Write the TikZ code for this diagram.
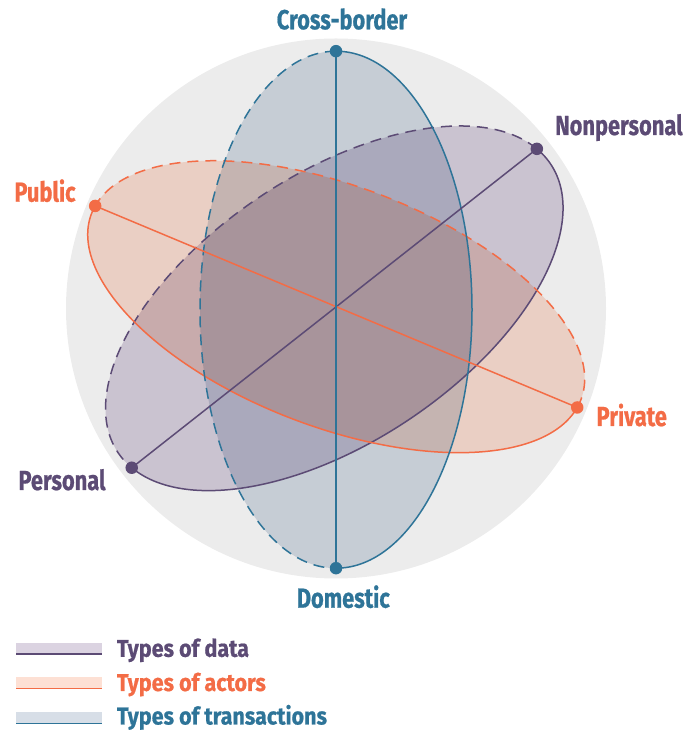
\documentclass[tikz,border=0pt]{standalone}
\usepackage{fontspec}
\setmainfont[FakeStretch=0.79, BoldFeatures={FakeBold=0.7}]{Fira Sans}
\newfontfamily\legfont[FakeStretch=0.89, BoldFeatures={FakeBold=0.7}]{Fira Sans}
\definecolor{dataC}{HTML}{5C4B75}
\definecolor{actorsC}{HTML}{F36C46}
\definecolor{transC}{HTML}{2E7498}
\definecolor{dataF}{HTML}{DBD3E1}
\definecolor{actorsF}{HTML}{FDE0D4}
\definecolor{transF}{HTML}{D7DEE7}
\definecolor{grayC}{HTML}{ECECEC}
\begin{document}
\begin{tikzpicture}[x=1pt,y=1pt,
  outl/.style={line width=1.5pt},
  dsh/.style={dash pattern=on 11pt off 7pt},
  dotn/.style={circle, inner sep=0pt, minimum size=12.5pt},
  lab/.style={font=\bfseries\fontsize{27.6}{30}\selectfont, inner sep=0pt},
  leg/.style={font=\legfont\bfseries\fontsize{24.2}{27}\selectfont, inner sep=0pt, anchor=base west},
  mult/.style={blend mode=multiply}
]
\useasboundingbox (0,0) rectangle (686,731);
\fill[grayC] (336,422.5) circle[radius=270];

% fills and coordinates
\begin{scope}[shift={(334.3,422.7)}, rotate=33.7]
  \coordinate (np) at (8.7:260 and 134);
  \coordinate (pe) at (188.7:260 and 134);
  \fill[dataF, mult] (0,0) ellipse[x radius=260, y radius=134];
\end{scope}
\begin{scope}[shift={(336.2,424.3)}, rotate=-20.8]
  \coordinate (pr) at (-4.1:261.8 and 120.4);
  \coordinate (pu) at (175.9:261.8 and 120.4);
  \fill[actorsF, mult] (0,0) ellipse[x radius=261.8, y radius=120.4];
\end{scope}
\begin{scope}[shift={(336,421.3)}, rotate=90]
  \coordinate (cb) at (0:258.5 and 136);
  \coordinate (dm) at (180:258.5 and 136);
  \fill[transF, mult] (0,0) ellipse[x radius=258.5, y radius=136];
\end{scope}

% outlines
\begin{scope}[shift={(334.3,422.7)}, rotate=33.7]
  \draw[dataC, outl, dsh] (8.7:260 and 134) arc[start angle=8.7, end angle=188.7, x radius=260, y radius=134];
  \draw[dataC, outl] (188.7:260 and 134) arc[start angle=188.7, end angle=368.7, x radius=260, y radius=134];
\end{scope}
\begin{scope}[shift={(336.2,424.3)}, rotate=-20.8]
  \draw[actorsC, outl, dsh] (-4.1:261.8 and 120.4) arc[start angle=-4.1, end angle=175.9, x radius=261.8, y radius=120.4];
  \draw[actorsC, outl] (175.9:261.8 and 120.4) arc[start angle=175.9, end angle=355.9, x radius=261.8, y radius=120.4];
\end{scope}
\begin{scope}[shift={(336,421.3)}, rotate=90]
  \draw[transC, outl, dsh] (0:258.5 and 136) arc[start angle=0, end angle=180, x radius=258.5, y radius=136];
  \draw[transC, outl] (180:258.5 and 136) arc[start angle=180, end angle=360, x radius=258.5, y radius=136];
\end{scope}

% dots
\node[dotn, fill=dataC] (npdot) at (np) {};
\node[dotn, fill=dataC] (pedot) at (pe) {};
\node[dotn, fill=actorsC] (prdot) at (pr) {};
\node[dotn, fill=actorsC] (pudot) at (pu) {};
\node[dotn, fill=transC] (cbdot) at (cb) {};
\node[dotn, fill=transC] (dmdot) at (dm) {};

% axes
\draw[dataC, outl] (pedot.center) -- (npdot.center);
\draw[actorsC, outl] (pudot.center) -- (prdot.center);
\draw[transC, outl] (cbdot.center) -- (dmdot.center);

% labels
\node[lab, text=transC, anchor=base] (lcb) at (342,701.7) {Cross-border};
\node[lab, text=transC, anchor=base] (ldm) at (343.3,123.3) {Domestic};
\node[lab, text=dataC, anchor=base] (lnp) at (618.9,596) {Nonpersonal};
\node[lab, text=actorsC, anchor=base] (lpu) at (45,529.3) {Public};
\node[lab, text=actorsC, anchor=base] (lpr) at (631.7,305) {Private};
\node[lab, text=dataC, anchor=base] (lpe) at (62,241) {Personal};

% legend
\fill[dataF] (16,77) rectangle (102,88);
\draw[dataC, line width=1.5pt] (16,77) -- (102,77);
\fill[actorsF] (16,42.5) rectangle (102,53.5);
\draw[actorsC, line width=1.5pt] (16,42.5) -- (102,42.5);
\fill[transF] (16,7.5) rectangle (102,18.5);
\draw[transC, line width=1.5pt] (16,7.5) -- (102,7.5);
\node[leg, text=dataC] (lg1) at (116.7,74.2) {Types of data};
\node[leg, text=actorsC] (lg2) at (116.7,40) {Types of actors};
\node[leg, text=transC] (lg3) at (116.7,6.5) {Types of transactions};
\end{tikzpicture}
\end{document}
